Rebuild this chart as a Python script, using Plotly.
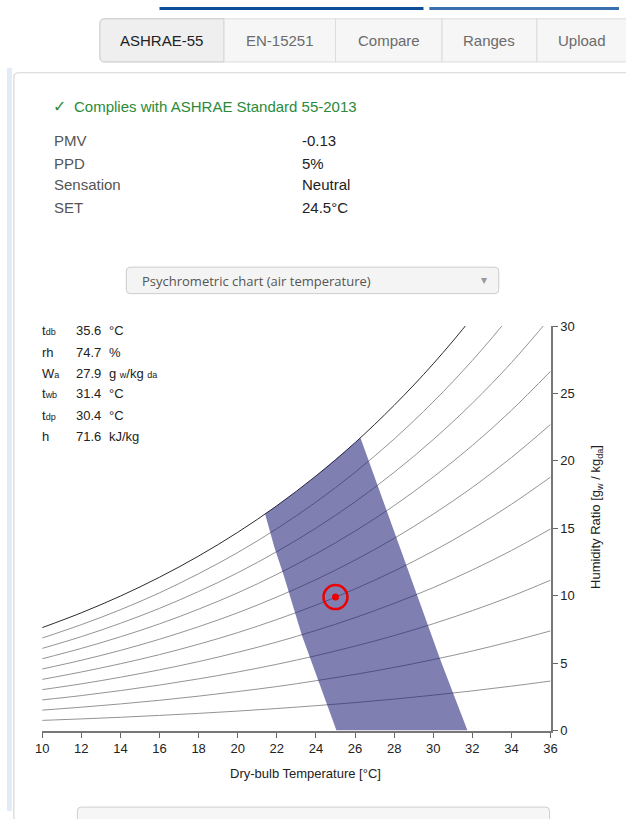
import plotly.graph_objects as go

W_PX, H_PX = 626, 819

# ---------------- data ----------------
temps = [10, 12, 14, 16, 18, 20, 22, 24, 26, 28, 30, 32, 34, 36]
w_rh10 = [0.75, 0.86, 0.98, 1.12, 1.27, 1.44, 1.63, 1.84, 2.07, 2.33, 2.62, 2.94, 3.29, 3.67]
w_rh20 = [1.51, 1.73, 1.97, 2.24, 2.55, 2.89, 3.26, 3.69, 4.16, 4.68, 5.26, 5.90, 6.61, 7.39]
w_rh30 = [2.27, 2.59, 2.96, 3.37, 3.83, 4.34, 4.91, 5.55, 6.26, 7.04, 7.92, 8.89, 9.96, 11.15]
w_rh40 = [3.03, 3.46, 3.95, 4.50, 5.11, 5.80, 6.56, 7.42, 8.37, 9.43, 10.60, 11.91, 13.35, 14.95]
w_rh50 = [3.79, 4.34, 4.95, 5.63, 6.40, 7.26, 8.23, 9.30, 10.50, 11.83, 13.31, 14.96, 16.78, 18.80]
w_rh60 = [4.56, 5.21, 5.94, 6.77, 7.70, 8.73, 9.90, 11.19, 12.64, 14.25, 16.05, 18.03, 20.25, 22.70]
w_rh70 = [5.32, 6.09, 6.95, 7.91, 9.00, 10.21, 11.58, 13.10, 14.79, 16.68, 18.80, 21.14, 23.75, 26.65]
w_rh80 = [6.09, 6.96, 7.95, 9.06, 10.31, 11.70, 13.27, 15.01, 16.96, 19.15, 21.58, 24.28, 27.29, 30.65]
w_rh90 = [6.86, 7.85, 8.96, 10.21, 11.63, 13.20, 14.97, 16.94, 19.15, 21.62, 24.38, 27.45, 30.88, 34.69]
w_sat = [7.63, 8.73, 9.97, 11.37, 12.94, 14.70, 16.67, 18.88, 21.35, 24.12, 27.20, 30.65, 34.49, 38.78]

zone_t = [25.05, 24.12, 23.28, 22.37, 21.87, 21.40, 22.0, 23.0, 24.0, 25.0, 26.0, 26.28,
          27.0, 28.0, 29.2, 30.4, 31.75, 25.05]
zone_w = [0.0, 3.66, 7.06, 11.43, 13.62, 16.05, 16.67, 17.74, 18.88, 20.08, 21.35, 21.7,
          18.8, 14.75, 10.0, 5.1, 0.0, 0.0]

point_t = [25.0]
point_w = [9.9]

x_ticks = [10, 12, 14, 16, 18, 20, 22, 24, 26, 28, 30, 32, 34, 36]
y_ticks = [0, 5, 10, 15, 20, 25, 30]

tabs = ["ASHRAE-55", "EN-15251", "Compare", "Ranges", "Upload"]
result_labels = ["PMV", "PPD", "Sensation", "SET"]
result_values = ["-0.13", "5%", "Neutral", "24.5°C"]
info_labels = ["t<span style='font-size:9px'>db</span>", "rh", "W<span style='font-size:9px'>a</span>",
               "t<span style='font-size:9px'>wb</span>", "t<span style='font-size:9px'>dp</span>", "h"]
info_values = ["35.6", "74.7", "27.9", "31.4", "30.4", "71.6"]
info_units = ["°C", "%", "g <span style='font-size:9px'>w</span>/kg <span style='font-size:9px'>da</span>",
              "°C", "°C", "kJ/kg"]


def px(x):
    return x / W_PX


def py(y):
    return 1 - y / H_PX


FONT = "Liberation Sans, Arial, sans-serif"

fig = go.Figure()

rh_series = [w_rh10, w_rh20, w_rh30, w_rh40, w_rh50, w_rh60, w_rh70, w_rh80, w_rh90]
for s in rh_series:
    fig.add_trace(go.Scatter(x=temps, y=s, mode="lines",
                             line=dict(color="#939393", width=1, shape="spline"),
                             hoverinfo="skip", showlegend=False))
fig.add_trace(go.Scatter(x=temps, y=w_sat, mode="lines",
                         line=dict(color="#2a2a2a", width=1, shape="spline"),
                         hoverinfo="skip", showlegend=False))
fig.add_trace(go.Scatter(x=zone_t, y=zone_w, mode="lines", fill="toself",
                         fillcolor="rgba(30,30,120,0.57)", line=dict(width=0),
                         hoverinfo="skip", showlegend=False))
fig.add_trace(go.Scatter(x=point_t, y=point_w, mode="markers",
                         marker=dict(symbol="circle-open", size=24, color="#ee0000",
                                     line=dict(color="#ee0000", width=2.5)),
                         hoverinfo="skip", showlegend=False))
fig.add_trace(go.Scatter(x=point_t, y=point_w, mode="markers",
                         marker=dict(symbol="circle", size=7, color="#ee0000"),
                         hoverinfo="skip", showlegend=False))

shapes = []
annotations = []


def rect(x0, y0, x1, y1, fill, line="rgba(0,0,0,0)", lw=1, layer="below"):
    shapes.append(dict(type="rect", xref="paper", yref="paper",
                       x0=px(x0), x1=px(x1), y0=py(y0), y1=py(y1),
                       fillcolor=fill, line=dict(color=line, width=lw), layer=layer))


def rrect(x0, y0, x1, y1, r, fill, line, lw=1, corners=(1, 1, 1, 1), layer="below"):
    tl, tr, br, bl = [r * c for c in corners]
    P = lambda x, y: f"{px(x):.6f},{py(y):.6f}"
    d = f"M {P(x0 + tl, y0)} L {P(x1 - tr, y0)} Q {P(x1, y0)} {P(x1, y0 + tr)} "
    d += f"L {P(x1, y1 - br)} Q {P(x1, y1)} {P(x1 - br, y1)} "
    d += f"L {P(x0 + bl, y1)} Q {P(x0, y1)} {P(x0, y1 - bl)} "
    d += f"L {P(x0, y0 + tl)} Q {P(x0, y0)} {P(x0 + tl, y0)} Z"
    shapes.append(dict(type="path", xref="paper", yref="paper", path=d,
                       fillcolor=fill, line=dict(color=line, width=lw), layer=layer))


def txt(x, y, s, size=15, color="#333", family=FONT, xanchor="left", textangle=0):
    annotations.append(dict(x=px(x), y=py(y), xref="paper", yref="paper", text=s,
                            showarrow=False, xanchor=xanchor, yanchor="middle",
                            textangle=textangle,
                            font=dict(size=size, color=color, family=family)))


# top blue bar
rect(156, 0, 426, 3, "#0d4c97")
rect(432, 0, 626, 3, "#3a6fae")

# left light-blue strip
rect(0, 62, 5, 819, "#e2ebf7")

# panel border
rrect(7, 67, 640, 830, 5, "#ffffff", "#d6d6d6", 1.2)

# tabs
tab_x = [95, 222, 336, 445, 542, 640]
for i, name in enumerate(tabs):
    if i == 0:
        rrect(tab_x[i], 12, tab_x[i + 1], 56, 5, "#efefef", "#c6c6c6", 1, corners=(1, 0, 0, 1))
    else:
        rect(tab_x[i], 12, tab_x[i + 1], 56, "#f6f6f6", "#dcdcdc", 1)
    cx = (tab_x[i] + min(tab_x[i + 1], 634)) / 2
    txt(cx, 34, name, size=15, color="#222" if i == 0 else "#6b6b6b", xanchor="center")

# compliance text
txt(45, 101, "✓", size=16, color="#2a8a3a", family="DejaVu Sans, sans-serif")
txt(66, 101, "Complies with ASHRAE Standard 55-2013", size=15, color="#2a8a3a")

rows_y = [136, 159, 181, 204]
for lab, val, yy in zip(result_labels, result_values, rows_y):
    txt(46, yy, lab, size=15, color="#555")
    txt(300, yy, val, size=15, color="#222")

# dropdown
rrect(122, 265, 503, 292, 4, "#f4f4f4", "#cccccc", 1)
txt(136, 279, "Psychrometric chart (air temperature)", size=13, color="#555",
    family="Open Sans, DejaVu Sans, sans-serif")
txt(488, 278, "▾", size=12, color="#999", family="DejaVu Sans, sans-serif", xanchor="center")

# info text on chart
info_y = [330, 352, 373, 394, 416, 438]
for lab, val, unit, yy in zip(info_labels, info_values, info_units, info_y):
    txt(34, yy, lab, size=13, color="#222")
    txt(69, yy, val, size=13, color="#222")
    txt(102, yy, unit, size=13, color="#222")

# axis titles
txt(305, 781, "Dry-bulb Temperature [°C]", size=13, color="#222", xanchor="center")
txt(603, 520, "Humidity Ratio [g<sub>w</sub> / kg<sub>da</sub>]", size=13, color="#222",
    xanchor="center", textangle=-90)

# bottom box (next control)
rrect(72, 815, 555, 840, 4, "#f6f6f6", "#cfcfcf", 1)

fig.update_layout(
    width=W_PX, height=H_PX,
    margin=dict(l=0, r=0, t=0, b=0),
    paper_bgcolor="white", plot_bgcolor="rgba(0,0,0,0)",
    shapes=shapes, annotations=annotations,
    showlegend=False,
    xaxis=dict(domain=[px(36), px(556)], range=[10, 36], tickvals=x_ticks,
               ticks="outside", ticklen=5, tickwidth=1, tickcolor="#666",
               showline=True, linecolor="#777", linewidth=2,
               showgrid=False, zeroline=False,
               tickfont=dict(size=13, color="#222", family=FONT), fixedrange=True),
    yaxis=dict(domain=[py(737), py(325)], range=[0, 30], tickvals=y_ticks,
               side="right", anchor="x",
               ticks="outside", ticklen=5, tickwidth=1, tickcolor="#666",
               showline=True, linecolor="#777", linewidth=2,
               showgrid=False, zeroline=False,
               tickfont=dict(size=13, color="#222", family=FONT), fixedrange=True),
)

fig.write_html("out.html", config={"displayModeBar": False},
               post_script="document.body.style.margin='0';document.body.style.overflow='hidden';")
